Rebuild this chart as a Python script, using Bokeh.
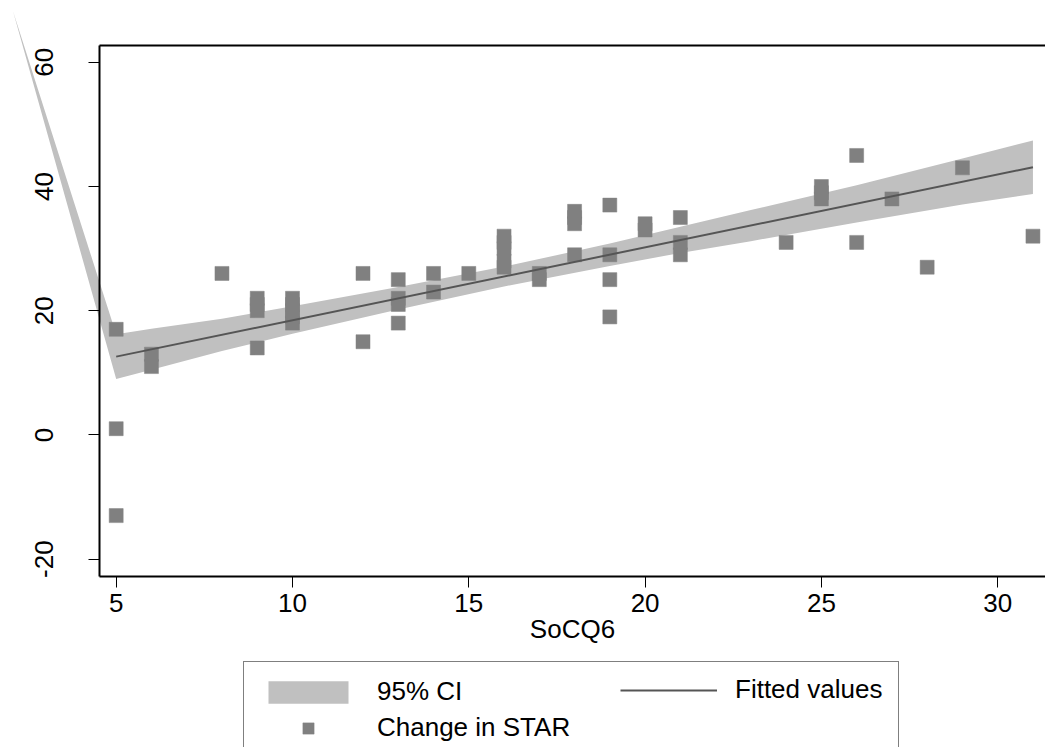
from bokeh.plotting import figure
from bokeh.models import (Range1d, LinearAxis, FixedTicker, Legend, LegendItem,
                          ColumnDataSource)
from bokeh.embed import file_html
from bokeh.resources import INLINE

# ---------------- data ----------------
star_x = [5, 5, 5, 6, 6, 8, 9, 9, 9, 9, 10, 10, 10, 10, 10, 12, 12,
          13, 13, 13, 13, 14, 14, 15, 16, 16, 16, 16, 16, 17, 17,
          18, 18, 18, 18, 19, 19, 19, 19, 20, 20, 21, 21, 21,
          24, 25, 25, 25, 26, 26, 27, 28, 29, 31]
star_y = [17, 1, -13, 11, 13, 26, 20, 21, 22, 14, 18, 19, 20, 21, 22, 26, 15,
          25, 21, 22, 18, 26, 23, 26, 27, 28, 30, 31, 32, 25, 26,
          34, 35, 36, 29, 37, 29, 25, 19, 33, 34, 35, 29, 31,
          31, 38, 39, 40, 45, 31, 38, 27, 43, 32]

fit_x = [5, 31]
fit_y = [12.6, 43.1]

# 95% CI band (first entry is the stray vertex drawn in the original)
ci_x = [2.07, 5, 6, 8, 10, 13, 16, 19, 21, 23, 26, 29, 31]
ci_lo = [68.3, 9.0, 10.5, 13.5, 16.3, 20.2, 23.9, 27.2, 29.3, 31.2, 34.2, 37.1, 38.8]
ci_hi = [68.3, 16.2, 17.1, 18.7, 20.7, 23.8, 27.1, 30.8, 33.5, 36.2, 40.2, 44.5, 47.4]

x_ticks = [5, 10, 15, 20, 25, 30]
y_ticks = [-20, 0, 20, 40, 60]
y_tick_labels = {-20: "-20", 0: "0", 20: "20", 40: "40", 60: "60"}
x_title = "SoCQ6"
label_ci = "95% CI"
label_fit = "Fitted values"
label_pts = "Change in STAR"

# ---------------- figure ----------------
FONT = "Liberation Sans"
X0, X1 = 1.719, 31.356
Y0, Y1 = -50.34, 69.95
AX_X = 4.518      # position of the left axis line
AX_Y = -22.75     # position of the bottom axis line
TOP_Y = 62.66     # top border of the plot region

p = figure(width=1045, height=747, x_range=Range1d(X0, X1), y_range=Range1d(Y0, Y1),
           output_backend="svg", toolbar_location=None, min_border=0,
           x_axis_location=None, y_axis_location=None)
p.outline_line_color = None
p.grid.visible = False
p.background_fill_color = "white"
p.border_fill_color = "white"

src_ci = ColumnDataSource(dict(x=ci_x, lo=ci_lo, hi=ci_hi))
band = p.varea(x="x", y1="lo", y2="hi", source=src_ci, fill_color="#c0c0c0")

src_pts = ColumnDataSource(dict(x=star_x, y=star_y))
pts = p.scatter(x="x", y="y", source=src_pts, marker="square", size=14,
                fill_color="#808080", line_color="#808080", line_width=0.5)

src_fit = ColumnDataSource(dict(x=fit_x, y=fit_y))
fit = p.line(x="x", y="y", source=src_fit, line_color="#555555", line_width=2)

def style(ax):
    ax.axis_line_width = 2
    ax.axis_line_color = "black"
    ax.major_tick_line_color = "black"
    ax.major_tick_line_width = 1
    ax.major_tick_out = 11
    ax.major_tick_in = 0
    ax.minor_tick_line_color = None
    ax.major_label_text_font = FONT
    ax.major_label_text_font_size = "26px"
    ax.major_label_text_color = "black"
    ax.axis_label_text_font = FONT
    ax.axis_label_text_font_size = "26px"
    ax.axis_label_text_font_style = "normal"
    ax.axis_label_text_color = "black"

xax = LinearAxis(ticker=FixedTicker(ticks=x_ticks), fixed_location=AX_Y,
                 bounds=(AX_X, X1), axis_label=x_title)
style(xax)
xax.major_label_standoff = 7
xax.axis_label_standoff = -2
p.add_layout(xax, "below")

yax = LinearAxis(ticker=FixedTicker(ticks=y_ticks), fixed_location=AX_X,
                 bounds=(AX_Y, TOP_Y))
style(yax)
yax.major_label_orientation = "vertical"
yax.major_label_standoff = 35
yax.major_label_overrides = y_tick_labels
p.add_layout(yax, "left")

top = LinearAxis(ticker=FixedTicker(ticks=[]), fixed_location=TOP_Y,
                 bounds=(AX_X, X1))
style(top)
p.add_layout(top, "above")

def style_legend(lg):
    lg.label_text_font = FONT
    lg.label_text_font_size = "26px"
    lg.label_text_color = "black"
    lg.glyph_height = 28
    lg.spacing = 5
    lg.margin = 0

# main legend box: 95% CI and Change in STAR in the first column
legend = Legend(items=[LegendItem(label=label_ci, renderers=[band]),
                       LegendItem(label=label_pts, renderers=[pts])],
                location=(243, -11))
style_legend(legend)
legend.glyph_width = 100
legend.label_standoff = 19
legend.label_width = 507
legend.padding = 14
legend.border_line_color = "black"
legend.border_line_width = 1
legend.background_fill_color = "white"
legend.background_fill_alpha = 1
p.add_layout(legend, "center")

# second column: Fitted values
legend2 = Legend(items=[LegendItem(label=label_fit, renderers=[fit])],
                 location=(620, 42))
style_legend(legend2)
legend2.glyph_width = 97
legend2.label_standoff = 18
legend2.padding = 0
legend2.border_line_color = None
legend2.background_fill_alpha = 0
p.add_layout(legend2, "center")

open("out.html", "w").write(file_html(p, INLINE))
